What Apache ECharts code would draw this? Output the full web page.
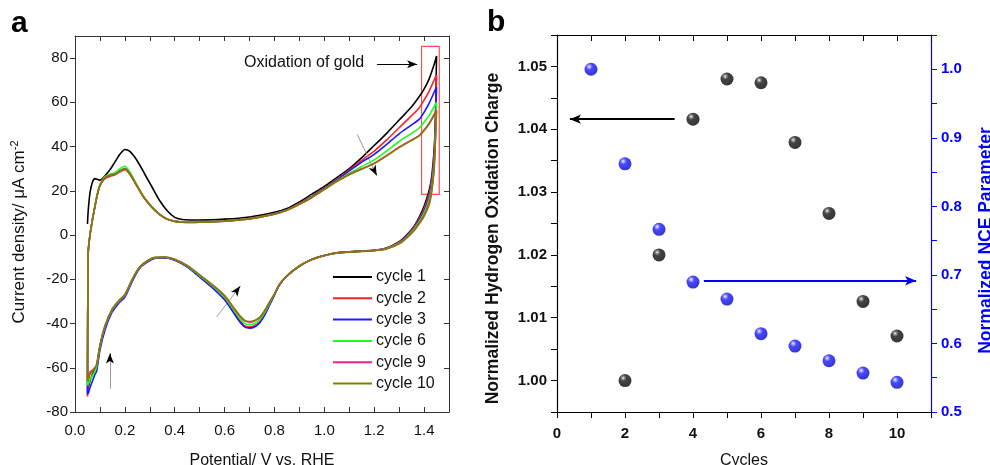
<!DOCTYPE html>
<html>
<head>
<meta charset="utf-8">
<script src="https://cdn.jsdelivr.net/npm/echarts@6/dist/echarts.min.js"></script>
<style>
html, body { margin: 0; padding: 0; background: #fff; }
#chart { width: 990px; height: 465px; }
</style>
</head>
<body>
<div id="chart"></div>
<script>
// panel a: cyclic voltammograms, forward sweep then reverse sweep
var fwdV = [0.05, 0.053, 0.06, 0.07, 0.08, 0.09, 0.10, 0.12, 0.14, 0.16, 0.18, 0.20, 0.22, 0.25, 0.28, 0.31, 0.34, 0.37, 0.40, 0.43, 0.46, 0.50, 0.60, 0.70, 0.80, 0.85, 0.90, 0.95, 1.00, 1.05, 1.10, 1.15, 1.20, 1.25, 1.30, 1.35, 1.38, 1.40, 1.42, 1.44, 1.45];
var fwd1 = [5, 11, 19, 24, 25.5, 25.2, 24.8, 26.8, 29.5, 33, 36.5, 38.7, 37.8, 33.5, 27.5, 21.5, 15.5, 11, 8, 7, 6.8, 6.8, 7.2, 8.2, 10.3, 12, 15, 18.5, 22, 26, 30, 35, 40.5, 46, 52, 58, 62.5, 66, 70.5, 77, 81];
var fwd2 = [-73, -8, 0, 7, 13, 18.5, 22.3, 25.5, 26.5, 27.2, 28.6, 29.6, 27.5, 21.8, 16.4, 12.4, 9.2, 7.2, 6.3, 5.9, 5.8, 5.9, 6.5, 7.5, 9.7, 11.5, 14.3, 17.5, 21.2, 25, 29.5, 33.8, 38, 43, 48.5, 54, 57.5, 61, 65, 70, 72.5];
var fwd3 = [-72, -8, 0, 7, 13, 18.5, 22.5, 26, 27, 27.5, 29, 30.1, 27.8, 22, 16.5, 12.5, 9.3, 7.2, 6.3, 5.9, 5.8, 5.9, 6.4, 7.4, 9.6, 11.4, 14.1, 17.3, 21, 24.8, 29, 33, 36.5, 41, 45.8, 49.8, 52.3, 55.5, 59.5, 64.5, 67];
var fwd6 = [-68, -8, 0, 7, 13.2, 18.8, 22.8, 26.4, 27.5, 28.2, 30, 31.1, 28.5, 22.3, 16.6, 12.5, 9.3, 7.2, 6.3, 5.9, 5.8, 5.9, 6.4, 7.4, 9.5, 11.3, 14, 17.1, 20.8, 24.5, 28, 31, 34, 38, 42.3, 46, 48.3, 51, 54, 58, 60];
var fwd9 = [-65, -8, 0, 7, 13, 18.5, 22.5, 26, 27, 27.5, 28.9, 30, 27.7, 21.9, 16.4, 12.4, 9.2, 7.1, 6.2, 5.8, 5.7, 5.8, 6.3, 7.3, 9.4, 11.2, 13.9, 17, 20.7, 24.3, 27.5, 30, 32.5, 36, 39.8, 43, 45, 47.5, 50.5, 54.5, 56.5];
var fwd10 = [-66, -8, 0, 7, 13, 18.5, 22.5, 26, 27, 27.5, 28.9, 30, 27.7, 21.9, 16.4, 12.4, 9.2, 7.1, 6.2, 5.8, 5.7, 5.8, 6.3, 7.3, 9.4, 11.2, 13.9, 17, 20.6, 24.2, 27.3, 29.8, 32.3, 35.8, 39.5, 42.8, 44.8, 47.2, 50.2, 54, 56.3];

var revV = [1.45, 1.445, 1.44, 1.43, 1.42, 1.40, 1.38, 1.36, 1.33, 1.30, 1.25, 1.20, 1.15, 1.10, 1.05, 1.00, 0.95, 0.90, 0.85, 0.82, 0.80, 0.78, 0.76, 0.74, 0.72, 0.70, 0.68, 0.66, 0.64, 0.60, 0.555, 0.50, 0.45, 0.40, 0.36, 0.32, 0.30, 0.267, 0.25, 0.228, 0.20, 0.174, 0.148, 0.12, 0.10, 0.087, 0.08, 0.07, 0.06, 0.055, 0.05];
var rev1 = [81, 50, 38, 26, 20, 13, 8, 4, 0, -3, -5.8, -6.9, -7.2, -7.6, -8, -9.2, -11, -14, -18.5, -22.5, -27, -31.5, -36, -39.5, -41.2, -41.8, -41.2, -38.8, -35.5, -29, -24, -18.8, -14.2, -11.2, -10.2, -10.4, -11.2, -13.8, -16.2, -20.8, -27.5, -30.5, -34.3, -42, -51, -60, -61, -63, -66, -68, -70];
var rev2 = [72.5, 48, 36, 24.5, 18.5, 12, 7.3, 3.6, -0.3, -3.2, -5.9, -6.9, -7.2, -7.6, -8, -9.2, -11, -14, -18.5, -22.5, -27, -31.4, -35.9, -39.3, -41, -41.6, -41, -38.6, -35.3, -28.9, -23.9, -18.7, -14.2, -11.2, -10.2, -10.4, -11.2, -13.8, -16.2, -20.8, -27.5, -30.5, -34.3, -41.8, -50.5, -59, -60.5, -61.5, -62.5, -65, -73];
var rev3 = [67, 46, 34, 23, 17, 11, 6.6, 3.2, -0.6, -3.4, -6, -7, -7.3, -7.7, -8.1, -9.3, -11.1, -14.1, -18.6, -22.6, -27.1, -31.7, -36.3, -39.8, -41.6, -42.1, -41.5, -39.1, -35.8, -29.3, -24.2, -19, -14.4, -11.4, -10.4, -10.6, -11.5, -14.1, -16.6, -21.3, -28, -31, -35, -43, -52, -61.5, -63, -66, -69, -71, -72];
var rev6 = [60, 44, 32, 21.5, 16, 10, 6, 2.8, -0.9, -3.6, -6.1, -7, -7.3, -7.7, -8.1, -9.2, -11, -14, -18.5, -22.4, -26.8, -31, -35.2, -38.5, -40, -40.5, -39.9, -37.6, -34.4, -28.2, -23.4, -18.4, -14, -11.1, -10.1, -10.3, -11.1, -13.7, -16.1, -20.6, -27.2, -30.2, -34, -41.5, -50.5, -59.5, -61.5, -63.5, -65.5, -67, -68];
var rev9 = [56.5, 42, 30, 20, 14.5, 9, 5.4, 2.4, -1.2, -3.8, -6.2, -7, -7.3, -7.7, -8.1, -9.2, -11, -13.9, -18.4, -22.3, -26.6, -30.5, -34.5, -37.5, -38.9, -39.4, -38.8, -36.6, -33.6, -27.6, -23, -18.1, -13.8, -11, -10, -10.2, -11, -13.6, -16, -20.4, -27, -30, -33.8, -41.2, -50, -58.5, -60, -61, -62, -63.5, -65];
var rev10 = [56.3, 41, 29, 19, 13.5, 8.5, 5, 2, -1.4, -4, -6.3, -7.1, -7.4, -7.8, -8.2, -9.2, -11, -13.9, -18.3, -22.2, -26.6, -30.3, -34.2, -37.2, -38.6, -39.1, -38.5, -36.3, -33.3, -27.4, -22.8, -18, -13.7, -10.9, -9.9, -10.1, -10.9, -13.5, -15.9, -20.3, -26.8, -29.8, -33.6, -41, -49.8, -58.5, -60, -61.5, -63, -64.5, -66];

var cycleNames = ['cycle 1', 'cycle 2', 'cycle 3', 'cycle 6', 'cycle 9', 'cycle 10'];
var cycleColors = ['#000000', '#ff2020', '#1a1aff', '#1aff1a', '#ff1a8c', '#808000'];
var cycleFwd = [fwd1, fwd2, fwd3, fwd6, fwd9, fwd10];
var cycleRev = [rev1, rev2, rev3, rev6, rev9, rev10];

// panel b
var chargeCycles = [2, 3, 4, 5, 6, 7, 8, 9, 10];
var chargeValues = [1.000, 1.020, 1.0416, 1.048, 1.0474, 1.0379, 1.0266, 1.0126, 1.0071];
var nceCycles = [1, 2, 3, 4, 5, 6, 7, 8, 9, 10];
var nceValues = [1.0, 0.862, 0.7665, 0.6896, 0.6648, 0.6142, 0.5962, 0.5748, 0.5568, 0.5433];

var FONT = 'Liberation Sans, Arial, sans-serif';

function zipPts(xs, ys) {
    var out = [];
    for (var i = 0; i < xs.length; i++) out.push([xs[i], ys[i]]);
    return out;
}

var chart = echarts.init(document.getElementById('chart'), null, {renderer: 'canvas'});

var lineSeries = cycleNames.map(function (name, k) {
    return {
        name: name,
        type: 'line',
        xAxisIndex: 0,
        yAxisIndex: 0,
        symbol: 'none',
        smooth: 0.25,
        lineStyle: {color: cycleColors[k], width: 1.6},
        itemStyle: {color: cycleColors[k]},
        data: zipPts(fwdV, cycleFwd[k]).concat(zipPts(revV, cycleRev[k])),
        z: 3 + k
    };
});

// annotations of panel a hang on the cycle 1 series
lineSeries[0].markLine = {
    silent: true,
    animation: false,
    symbol: ['none', 'none'],
    label: {show: false},
    lineStyle: {type: 'solid'},
    data: [
        [{coord: [1.211, 77.2], lineStyle: {color: '#000', width: 1}}, {coord: [1.372, 77.2], symbol: 'arrow', symbolSize: [6, 10]}],
        [{coord: [1.132, 45.5], lineStyle: {color: '#999', width: 1}}, {coord: [1.21, 27]}],
        [{coord: [1.199, 29.4], lineStyle: {color: '#000', width: 1}}, {coord: [1.21, 27], symbol: 'arrow', symbolSize: [6, 10]}],
        [{coord: [0.568, -37], lineStyle: {color: '#999', width: 1}}, {coord: [0.662, -23.2]}],
        [{coord: [0.65, -25], lineStyle: {color: '#000', width: 1}}, {coord: [0.662, -23.2], symbol: 'arrow', symbolSize: [6, 10]}],
        [{coord: [0.14, -69.4], lineStyle: {color: '#999', width: 1}}, {coord: [0.14, -53.6]}],
        [{coord: [0.14, -56.5], lineStyle: {color: '#000', width: 1}}, {coord: [0.14, -53.6], symbol: 'arrow', symbolSize: [6, 10]}]
    ]
};
lineSeries[0].markArea = {
    silent: true,
    itemStyle: {color: 'rgba(0,0,0,0)', borderColor: '#ff5050', borderWidth: 1.2},
    data: [[{coord: [1.39, 85.3]}, {coord: [1.461, 18.4]}]]
};

function ball(c0, c1, c2, c3) {
    return {
        type: 'radial', x: 0.36, y: 0.3, r: 0.8,
        colorStops: [
            {offset: 0, color: c0}, {offset: 0.13, color: c1},
            {offset: 0.32, color: c2}, {offset: 1, color: c3}
        ]
    };
}

function frameAxis(extra) {
    var base = {
        type: 'value',
        axisLine: {show: true, onZero: false, lineStyle: {color: '#333', width: 1}},
        axisTick: {show: true, inside: true, length: 5, lineStyle: {color: '#333'}},
        axisLabel: {show: false},
        splitLine: {show: false}
    };
    for (var key in extra) base[key] = extra[key];
    return base;
}

var option = {
    animation: false,
    textStyle: {fontFamily: FONT},
    grid: [
        {left: 75, top: 36, width: 374, height: 376, outerBoundsMode: 'none', containLabel: false},
        {left: 557, top: 35, width: 374, height: 377, outerBoundsMode: 'none', containLabel: false}
    ],
    legend: {
        data: cycleNames,
        orient: 'vertical',
        left: 333,
        top: 269,
        padding: 0,
        icon: 'rect',
        itemWidth: 39,
        itemHeight: 2,
        itemGap: 5.3,
        textStyle: {fontSize: 16, color: '#111', fontFamily: FONT, padding: [0, 0, 0, -1]},
        selectedMode: false
    },
    xAxis: [
        frameAxis({
            gridIndex: 0, min: 0, max: 1.5, interval: 0.1, position: 'bottom',
            axisLabel: {
                show: true, fontSize: 15, color: '#111', margin: 11,
                formatter: function (v) {
                    var t = Math.round(v * 10);
                    return (t % 2 === 0 && t < 15) ? (t / 10).toFixed(1) : '';
                }
            },
            name: 'Potential/ V vs. RHE', nameLocation: 'middle', nameGap: 41,
            nameTextStyle: {fontSize: 16, color: '#111'}
        }),
        frameAxis({gridIndex: 0, min: 0, max: 1.5, interval: 0.1, position: 'top'}),
        frameAxis({
            gridIndex: 1, min: 0, max: 11, interval: 1, position: 'bottom',
            axisLine: {show: true, onZero: false, lineStyle: {color: '#000', width: 1.2}},
            axisTick: {show: true, inside: false, length: 6, lineStyle: {color: '#000'}},
            axisLabel: {
                show: true, fontSize: 15, fontWeight: 'bold', color: '#111', margin: 14,
                formatter: function (v) {
                    return (v % 2 === 0 && v <= 10) ? String(v) : '';
                }
            },
            name: 'Cycles', nameLocation: 'middle', nameGap: 41,
            nameTextStyle: {fontSize: 16, color: '#111'}
        }),
        frameAxis({
            gridIndex: 1, min: 0, max: 11, interval: 1, position: 'top',
            axisLine: {show: true, onZero: false, lineStyle: {color: '#000', width: 1.2}},
            axisTick: {show: true, inside: true, length: 6, lineStyle: {color: '#000'}}
        })
    ],
    yAxis: [
        frameAxis({
            gridIndex: 0, min: -80, max: 90, interval: 20, position: 'left',
            axisTick: {show: true, inside: false, length: 5, lineStyle: {color: '#333'}},
            axisLabel: {show: true, fontSize: 15, color: '#111', margin: 7, showMaxLabel: false},
            name: '{a|Current density/ \u03bcA cm}{s|-2}',
            nameLocation: 'middle', nameGap: 46,
            nameTextStyle: {
                color: '#111',
                padding: [0, 16, 0, 0],
                rich: {
                    a: {fontSize: 17, color: '#111', fontFamily: FONT, lineHeight: 20},
                    s: {fontSize: 11, color: '#111', fontFamily: FONT, verticalAlign: 'top', lineHeight: 20}
                }
            }
        }),
        frameAxis({gridIndex: 0, min: -80, max: 90, interval: 20, position: 'right'}),
        frameAxis({
            gridIndex: 1, min: 0.995, max: 1.055, interval: 0.005, position: 'left',
            axisLine: {show: true, onZero: false, lineStyle: {color: '#000', width: 1.2}},
            axisTick: {show: true, inside: false, length: 6, lineStyle: {color: '#000'}},
            axisLabel: {
                show: true, fontSize: 15, fontWeight: 'bold', color: '#111', margin: 10,
                formatter: function (v) {
                    var t = Math.round(v * 1000);
                    return (t % 10 === 0) ? (t / 1000).toFixed(2) : '';
                }
            },
            name: 'Normalized Hydrogen Oxidation Charge',
            nameLocation: 'middle', nameGap: 55,
            nameTextStyle: {fontSize: 17.5, fontWeight: 'bold', color: '#111', padding: [0, 30, 0, 0]}
        }),
        frameAxis({
            gridIndex: 1, min: 0.5, max: 1.05, interval: 0.05, position: 'right',
            axisLine: {show: true, onZero: false, lineStyle: {color: '#0000ff', width: 1.2}},
            axisTick: {show: true, inside: false, length: 6, lineStyle: {color: '#0000ff'}},
            axisLabel: {
                show: true, fontSize: 15, fontWeight: 'bold', color: '#0000ff', margin: 10,
                formatter: function (v) {
                    var t = Math.round(v * 100);
                    return (t % 10 === 0) ? (t / 100).toFixed(1) : '';
                }
            },
            name: 'Normalized NCE Parameter',
            nameLocation: 'middle', nameGap: 46,
            nameTextStyle: {fontSize: 17.5, fontWeight: 'bold', color: '#0000ff', padding: [0, 34, 0, 0]}
        })
    ],
    series: lineSeries.concat([
        {
            name: 'NCE',
            type: 'scatter',
            xAxisIndex: 2,
            yAxisIndex: 3,
            symbolSize: 13,
            itemStyle: {color: ball('#ffffff', '#8c8cff', '#1a1aff', '#0000b4')},
            data: zipPts(nceCycles, nceValues),
            markLine: {
                silent: true, animation: false,
                symbol: ['none', 'none'], label: {show: false},
                data: [[
                    {coord: [4.32, 0.6915], lineStyle: {color: '#0000ff', width: 2, type: 'solid'}},
                    {coord: [10.56, 0.6915], symbol: 'arrow', symbolSize: [7, 11]}
                ]]
            }
        },
        {
            name: 'charge',
            type: 'scatter',
            xAxisIndex: 2,
            yAxisIndex: 2,
            symbolSize: 13,
            itemStyle: {color: ball('#ffffff', '#7a7a7a', '#141414', '#000000')},
            data: zipPts(chargeCycles, chargeValues),
            markLine: {
                silent: true, animation: false,
                symbol: ['none', 'none'], label: {show: false},
                data: [[
                    {coord: [3.46, 1.0416], lineStyle: {color: '#000', width: 2, type: 'solid'}},
                    {coord: [0.38, 1.0416], symbol: 'arrow', symbolSize: [7, 11]}
                ]]
            }
        }
    ]),
    graphic: [
        {type: 'text', left: 11, top: 9, style: {text: 'a', font: 'bold 30px ' + FONT, fill: '#000'}},
        {type: 'text', left: 487, top: 8, style: {text: 'b', font: 'bold 30px ' + FONT, fill: '#000'}},
        {type: 'text', left: 244, top: 55, style: {text: 'Oxidation of gold', font: '16px ' + FONT, fill: '#111'}}
    ]
};

chart.setOption(option);
</script>
</body>
</html>
